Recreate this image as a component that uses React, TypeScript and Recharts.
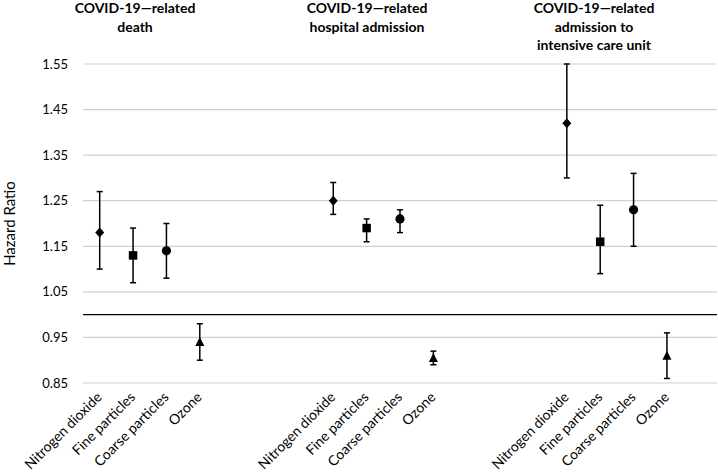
import React from 'react';
import { ComposedChart, Scatter, XAxis, YAxis, CartesianGrid, ReferenceLine, ErrorBar } from 'recharts';

// Pollutants (x tick labels within each outcome group)
const pollutants = ['Nitrogen dioxide', 'Fine particles', 'Coarse particles', 'Ozone'];

// Outcome group titles (split into lines as in the figure)
const deathTitle = ['COVID-19\u2014related', 'death'];
const hospitalTitle = ['COVID-19\u2014related', 'hospital admission'];
const icuTitle = ['COVID-19\u2014related', 'admission to', 'intensive care unit'];

// Hazard ratios and 95% CI bounds, in pollutant order
const deathHR = [1.18, 1.13, 1.14, 0.94];
const deathLow = [1.10, 1.07, 1.08, 0.90];
const deathHigh = [1.27, 1.19, 1.20, 0.98];

const hospitalHR = [1.25, 1.19, 1.21, 0.905];
const hospitalLow = [1.22, 1.16, 1.18, 0.89];
const hospitalHigh = [1.29, 1.21, 1.23, 0.92];

const icuHR = [1.42, 1.16, 1.23, 0.91];
const icuLow = [1.30, 1.09, 1.15, 0.86];
const icuHigh = [1.55, 1.24, 1.31, 0.96];

const yTicks = [0.85, 0.95, 1.05, 1.15, 1.25, 1.35, 1.45, 1.55];
const referenceValue = 1.0;

// Number of empty category slots between groups
const gapSlots = 3;

type Row = { id: string; label: string; kind: number; hr: number | null; err?: [number, number] };

function buildRows(): Row[] {
  const groups = [
    { hr: deathHR, lo: deathLow, hi: deathHigh },
    { hr: hospitalHR, lo: hospitalLow, hi: hospitalHigh },
    { hr: icuHR, lo: icuLow, hi: icuHigh },
  ];
  const rows: Row[] = [];
  groups.forEach((g, gi) => {
    pollutants.forEach((p, pi) => {
      rows.push({
        id: `g${gi}-p${pi}`,
        label: p,
        kind: pi,
        hr: g.hr[pi],
        err: [g.hr[pi] - g.lo[pi], g.hi[pi] - g.hr[pi]],
      });
    });
    const gaps = gi < groups.length - 1 ? gapSlots : 1;
    for (let k = 0; k < gaps; k++) {
      rows.push({ id: `gap${gi}-${k}`, label: '', kind: -1, hr: null });
    }
  });
  return rows;
}

const rows = buildRows();
const labelById: Record<string, string> = {};
rows.forEach((r) => { labelById[r.id] = r.label; });

const FONT = 'Lato, "Open Sans", sans-serif';

const Marker = (props: any) => {
  const { cx, cy, payload } = props;
  if (!payload || payload.hr == null || cx == null || cy == null || isNaN(cy)) return <g />;
  const k = payload.kind;
  if (k === 0) {
    const r = 5;
    return <polygon points={`${cx},${cy - r} ${cx + r - 0.5},${cy} ${cx},${cy + r} ${cx - r + 0.5},${cy}`} fill="#000" />;
  }
  if (k === 1) {
    const s = 8.5;
    return <rect x={cx - s / 2} y={cy - s / 2} width={s} height={s} fill="#000" />;
  }
  if (k === 2) {
    return <circle cx={cx} cy={cy} r={4.6} fill="#000" />;
  }
  const w = 9;
  const h = 8;
  return <polygon points={`${cx},${cy - h / 2 - 1} ${cx + w / 2},${cy + h / 2} ${cx - w / 2},${cy + h / 2}`} fill="#000" />;
};

const XTick = (props: any) => {
  const { x, y, payload } = props;
  const text = labelById[payload.value];
  if (!text) return <g />;
  return (
    <g transform={`translate(${x + 3},${y + 15})`}>
      <text textAnchor="end" transform="rotate(-45)" fontSize={14} fontFamily={FONT} fill="#000">
        {text}
      </text>
    </g>
  );
};

const titles = [
  { lines: deathTitle, x: 135 },
  { lines: hospitalTitle, x: 367 },
  { lines: icuTitle, x: 594 },
];

export default function App() {
  return (
    <div style={{ position: 'absolute', left: 0, top: 0, width: 718, height: 476, background: '#fff' }}>
      <ComposedChart
        width={718}
        height={476}
        data={rows}
        margin={{ top: 64, right: 1, bottom: 0, left: 0 }}
      >
        <CartesianGrid vertical={false} stroke="#d0d0d0" strokeWidth={1.2} />
        <XAxis
          dataKey="id"
          type="category"
          interval={0}
          axisLine={false}
          tickLine={false}
          tickSize={0}
          tickMargin={0}
          height={93}
          padding={{ left: 16.7, right: 16.7 }}
          tick={<XTick />}
        />
        <YAxis
          type="number"
          domain={[0.85, 1.55]}
          ticks={yTicks}
          allowDataOverflow
          axisLine={false}
          tickLine={false}
          tickSize={0}
          tickMargin={15}
          width={83}
          tickFormatter={(v: number) => v.toFixed(2)}
          tick={{ fontSize: 13, fontFamily: FONT, fill: '#000' }}
          label={{
            value: 'Hazard Ratio',
            angle: -90,
            position: 'insideLeft',
            offset: 10,
            style: { fontSize: 15, fontFamily: FONT, fill: '#000', textAnchor: 'middle' },
          }}
        />
        <ReferenceLine y={referenceValue} stroke="#000" strokeWidth={1.3} />
        <Scatter dataKey="hr" isAnimationActive={false} shape={<Marker />}>
          <ErrorBar dataKey="err" direction="y" width={3} stroke="#000" strokeWidth={1.5} />
        </Scatter>
      </ComposedChart>
      <svg width={718} height={476} style={{ position: 'absolute', left: 0, top: 0, pointerEvents: 'none' }}>
        {titles.map((t, ti) =>
          t.lines.map((line, li) => (
            <text
              key={`${ti}-${li}`}
              x={t.x}
              y={13 + li * 18.5}
              textAnchor="middle"
              fontSize={14}
              fontWeight="bold"
              fontFamily={FONT}
              fill="#000"
            >
              {line}
            </text>
          ))
        )}
      </svg>
    </div>
  );
}
